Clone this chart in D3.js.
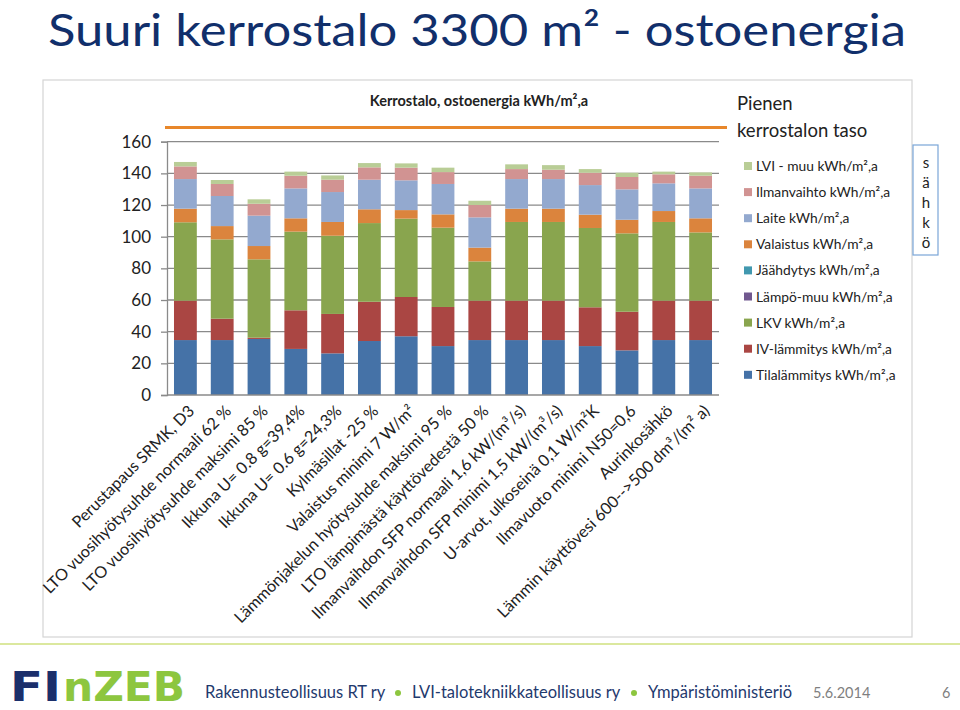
<!DOCTYPE html>
<html><head><meta charset="utf-8">
<script src="https://cdn.jsdelivr.net/npm/d3@7"></script>
<style>body{margin:0;background:#fff}svg{display:block}</style>
</head><body>
<script>
const categories = ["Perustapaus SRMK, D3","LTO vuosihyötysuhde normaali 62 %","LTO vuosihyötysuhde maksimi 85 %","Ikkuna U= 0.8 g=39,4%","Ikkuna U= 0.6 g=24,3%","Kylmäsillat -25 %","Valaistus minimi 7 W/m²","Lämmönjakelun hyötysuhde maksimi 95 %","LTO lämpimästä käyttövedestä 50 %","Ilmanvaihdon SFP normaali 1,6 kW/(m³/s)","Ilmanvaihdon SFP minimi 1,5 kW/(m³/s)","U-arvot, ulkoseinä 0,1 W/m²K","Ilmavuoto minimi N50=0,6","Aurinkosähkö","Lämmin käyttövesi 600-->500 dm³/(m² a)"];
const seriesNames = ["Tilalämmitys kWh/m²,a","IV-lämmitys kWh/m²,a","LKV kWh/m²,a","Lämpö-muu kWh/m²,a","Jäähdytys kWh/m²,a","Valaistus kWh/m²,a","Laite kWh/m²,a","Ilmanvaihto kWh/m²,a","LVI - muu kWh/m²,a"];
const tilalammitys = [34.7,34.7,35.4,29.1,26.3,34.1,37.1,30.9,34.7,34.7,34.7,30.9,28.2,34.7,34.7];
const ivLammitys   = [24.9,13.5,0.8,24.4,24.9,24.8,24.8,24.7,24.9,24.9,24.9,24.5,24.4,24.9,24.9];
const lkv          = [49.5,50.1,49.5,49.7,49.4,49.7,49.5,50.1,24.8,49.7,49.7,50.1,49.5,49.7,43.1];
const lampoMuu     = [0,0,0,0,0,0,0,0,0,0,0,0,0,0,0];
const jaahdytys    = [0,0,0,0,0,0,0,0,0,0,0,0,0,0,0];
const valaistus    = [8.6,8.4,8.4,8.4,8.7,8.7,5.4,8.4,8.7,8.4,8.4,8.4,8.6,6.9,8.9];
const laite        = [18.7,19.0,19.2,18.9,18.9,18.7,18.8,19.2,19.1,18.7,18.7,18.7,19.2,17.5,18.9];
const ilmanvaihto  = [8.0,7.6,7.5,8.0,7.8,7.8,8.0,7.5,7.8,6.3,5.9,7.8,7.8,5.7,8.0];
const lviMuu       = [2.8,2.5,2.8,2.6,2.7,2.7,2.7,2.8,2.7,3.0,2.9,2.3,2.7,1.7,2.1];
const pienenKerrostalonTaso = 169;
const yTicks = [0,20,40,60,80,100,120,140,160];
const colors = ["#4572A7","#AA4643","#89A54E","#71588F","#4198AF","#DB843D","#93A9CF","#D19392","#B9CD96"];

const seriesValues = [tilalammitys,ivLammitys,lkv,lampoMuu,jaahdytys,valaistus,laite,ilmanvaihto,lviMuu];
const rows = categories.map((c,i)=>{const r={cat:c}; seriesNames.forEach((s,j)=>r[s]=seriesValues[j][i]); return r;});

const W=960,H=710;
const svg=d3.select("body").append("svg").attr("width",W).attr("height",H);
const font="Lato, 'Open Sans', sans-serif";

// title
svg.append("text").attr("x",48).attr("y",46).attr("font-family",font).attr("font-size",44)
  .attr("fill","#112f6b").attr("textLength",858).attr("lengthAdjust","spacingAndGlyphs")
  .text("Suuri kerrostalo 3300 m² - ostoenergia");

// frame
svg.append("rect").attr("x",43).attr("y",80).attr("width",869).attr("height",557)
  .attr("fill","none").attr("stroke","#d4d4d4").attr("stroke-width",1.2);

const x=d3.scaleBand().domain(categories).range([167,719]).paddingInner(0.38).paddingOuter(0.19);
const y=d3.scaleLinear().domain([0,160]).range([395,141.7]);

// gridlines
svg.append("g").selectAll("line").data(yTicks.filter(d=>d>0)).join("line")
  .attr("x1",167).attr("x2",719).attr("y1",d=>y(d)).attr("y2",d=>y(d))
  .attr("stroke","#8a8a8a").attr("stroke-width",1.3);

// bars
const stack=d3.stack().keys(seriesNames)(rows);
svg.append("g").selectAll("g").data(stack).join("g").attr("fill",(d,i)=>colors[i])
  .selectAll("rect").data(d=>d).join("rect")
  .attr("x",d=>x(d.data.cat)).attr("width",x.bandwidth())
  .attr("y",d=>y(d[1])).attr("height",d=>Math.max(0,y(d[0])-y(d[1])));

// axes
const ya=svg.append("g").attr("transform","translate(167,0)")
  .call(d3.axisLeft(y).tickValues(yTicks).tickSize(6).tickPadding(10));
ya.select(".domain").attr("stroke","#8a8a8a").attr("stroke-width",1.3);
ya.selectAll(".tick line").attr("stroke","#8a8a8a").attr("stroke-width",1.3);
ya.selectAll(".tick text").attr("font-family",font).attr("font-size",17).attr("fill","#222");
svg.append("line").attr("x1",167).attr("x2",719).attr("y1",y(0)).attr("y2",y(0))
  .attr("stroke","#8a8a8a").attr("stroke-width",1.3);

const xa=svg.append("g").attr("transform","translate(0,395)")
  .call(d3.axisBottom(x).tickSize(0).tickPadding(0));
xa.select(".domain").remove();
xa.selectAll(".tick text").attr("font-family",font).attr("font-size",16.2).attr("fill","#222")
  .attr("text-anchor","end").attr("dy",0)
  .attr("transform","translate(10,17) rotate(-45)");

// orange reference line
svg.append("line").attr("x1",165).attr("x2",727)
  .attr("y1",y(pienenKerrostalonTaso)).attr("y2",y(pienenKerrostalonTaso))
  .attr("stroke","#E8872A").attr("stroke-width",3);

// chart title
svg.append("text").attr("x",479).attr("y",106).attr("text-anchor","middle")
  .attr("font-family",font).attr("font-weight","bold").attr("font-size",14.5).attr("fill","#222")
  .text("Kerrostalo, ostoenergia kWh/m²,a");

// line legend
const lt=svg.append("text").attr("font-family",font).attr("font-size",18.5).attr("fill","#222");
lt.append("tspan").attr("x",737).attr("y",110).text("Pienen");
lt.append("tspan").attr("x",737).attr("y",137).text("kerrostalon taso");

// legend
const legendOrder=[8,7,6,5,4,3,2,1,0];
const lg=svg.append("g").selectAll("g").data(legendOrder).join("g")
  .attr("transform",(d,i)=>`translate(744,${166+i*26.1})`);
lg.append("rect").attr("x",0).attr("y",-4).attr("width",8).attr("height",8).attr("fill",d=>colors[d]);
lg.append("text").attr("x",12).attr("y",5).attr("font-family",font).attr("font-size",13.8)
  .attr("fill","#222").text(d=>seriesNames[d]);

// sähkö box
svg.append("rect").attr("x",913).attr("y",145).attr("width",25).attr("height",110)
  .attr("fill","#fff").attr("stroke","#7aa6d8").attr("stroke-width",1.2);
["s","ä","h","k","ö"].forEach((c,i)=>svg.append("text").attr("x",926).attr("y",168+i*20)
  .attr("text-anchor","middle").attr("font-family",font).attr("font-size",15).attr("fill","#222").text(c));

// footer
svg.append("line").attr("x1",0).attr("x2",960).attr("y1",644).attr("y2",644)
  .attr("stroke","#cfe07e").attr("stroke-width",1.5);
svg.append("text").attr("x",10).attr("y",701).attr("font-family","'DejaVu Sans', sans-serif")
  .attr("font-weight","bold").attr("font-size",40).attr("fill","#1b2f6b")
  .attr("textLength",51).attr("lengthAdjust","spacingAndGlyphs").text("FI");
svg.append("text").attr("x",63).attr("y",701).attr("font-family","'DejaVu Sans', sans-serif")
  .attr("font-weight","bold").attr("font-size",40).attr("fill","#8dc63f")
  .attr("textLength",122).attr("lengthAdjust","spacingAndGlyphs").text("nZEB");
const ft=svg.append("g").attr("font-family",font).attr("font-size",16.5);
ft.append("text").attr("x",205).attr("y",698).attr("fill","#1f3a6e").text("Rakennusteollisuus RT ry");
ft.append("text").attr("x",412).attr("y",698).attr("fill","#1f3a6e").text("LVI-talotekniikkateollisuus ry");
ft.append("text").attr("x",648).attr("y",698).attr("fill","#1f3a6e").text("Ympäristöministeriö");
ft.append("text").attr("x",813).attr("y",698).attr("fill","#7f7f7f").attr("font-size",14.5).text("5.6.2014");
ft.append("text").attr("x",942).attr("y",698).attr("fill","#7f7f7f").attr("font-size",14.5).text("6");
[398,634].forEach(cx=>svg.append("circle").attr("cx",cx).attr("cy",693).attr("r",3).attr("fill","#8dc63f"));
</script>
</body></html>
